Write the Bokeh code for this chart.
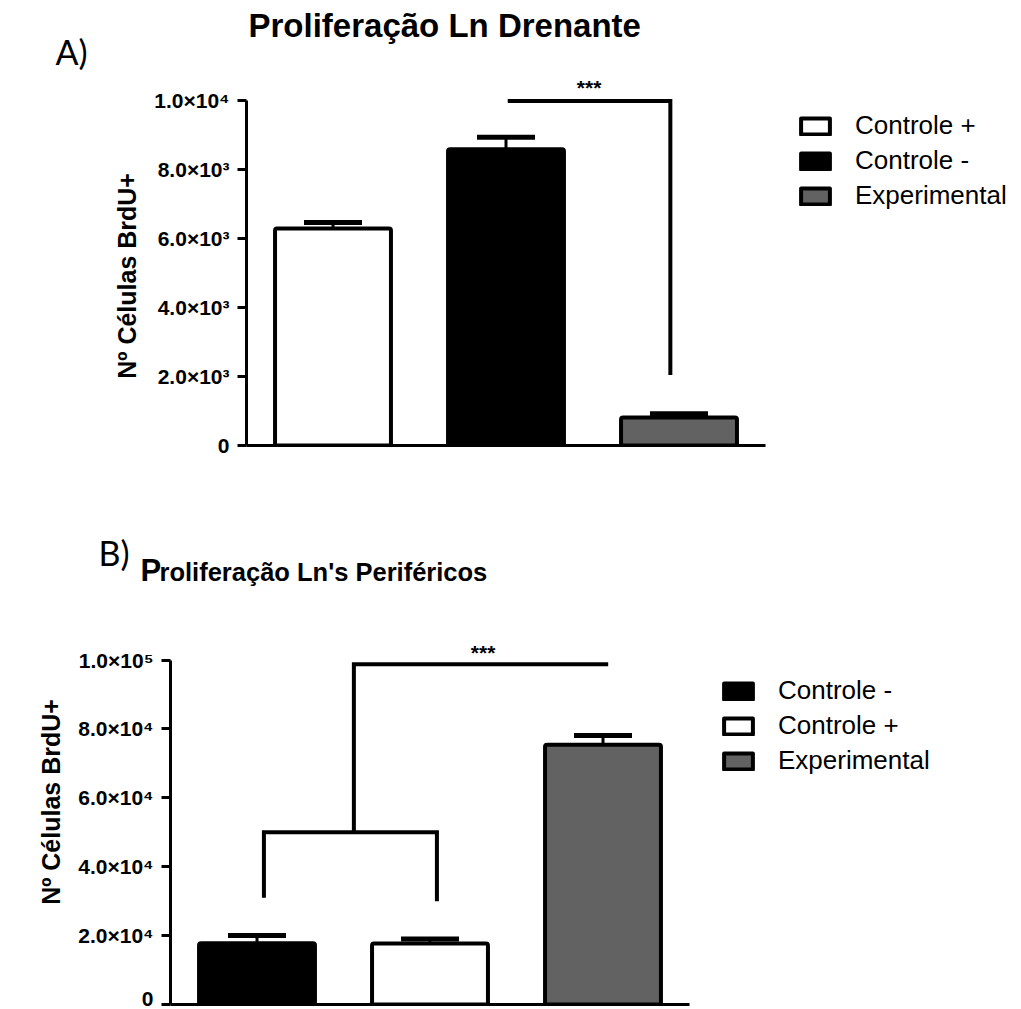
from bokeh.plotting import figure
from bokeh.models import (Range1d, Label, Legend, LegendItem, Whisker, TeeHead,
                          ColumnDataSource, FixedTicker, Title)
from bokeh.layouts import column
from bokeh.embed import file_html
from bokeh.resources import INLINE

# --- A) proliferation in the draining lymph node ---
drain_groups = ["Controle +", "Controle -", "Experimental"]
drain_mean = [6300, 8600, 810]
drain_sem = [170, 350, 110]
drain_colors = ["white", "black", "#626262"]
drain_ticks = [0, 2000, 4000, 6000, 8000, 10000]
drain_tick_labels = ["0", "2.0×10³", "4.0×10³", "6.0×10³", "8.0×10³", "1.0×10⁴"]

# --- B) proliferation in the peripheral lymph nodes ---
periph_groups = ["Controle -", "Controle +", "Experimental"]
periph_mean = [17800, 17700, 75400]
periph_sem = [2200, 1300, 2700]
periph_colors = ["black", "white", "#626262"]
periph_ticks = [0, 20000, 40000, 60000, 80000, 100000]
periph_tick_labels = ["0", "2.0×10⁴", "4.0×10⁴", "6.0×10⁴", "8.0×10⁴", "1.0×10⁵"]

FONT = "Liberation Sans"
Y_LABEL = "Nº Células BrdU+"
N_GROUPS = 3
NBSP = "\u00a0"


def bar_panel(groups, means, sems, colors, ticks, tick_labels,
              x_end, y_end, frame_w, frame_h, left, top, bottom, legend_xy,
              label_pad):
    p = figure(frame_width=frame_w, frame_height=frame_h,
               min_border_left=left, min_border_right=0,
               min_border_top=top, min_border_bottom=bottom,
               x_range=Range1d(0.5, x_end), y_range=Range1d(0, y_end),
               output_backend="svg", toolbar_location=None,
               title_location=None)
    if "frame_align" in p.properties():
        p.frame_align = False
    p.outline_line_color = None
    p.xgrid.visible = False
    p.ygrid.visible = False
    p.background_fill_color = "white"
    p.border_fill_color = "white"

    xs = list(range(1, len(groups) + 1))
    src = ColumnDataSource(dict(x=xs, mean=means,
                                hi=[m + s for m, s in zip(means, sems)],
                                color=colors, group=groups))
    bars = p.vbar(x="x", top="mean", width=0.67, bottom=0, source=src,
                  fill_color="color", line_color="black", line_width=4,
                  line_join="round", border_radius=2)

    # upper error bar only (SEM)
    wh = Whisker(source=src, base="x", lower="mean", upper="hi",
                 dimension="height", line_color="black", line_width=3,
                 upper_head=TeeHead(size=58, line_width=5, line_color="black"),
                 lower_head=None)
    p.add_layout(wh)

    # y axis
    ax = p.yaxis[0]
    ax.ticker = FixedTicker(ticks=ticks)
    ax.major_label_overrides = {t: lab for t, lab in zip(ticks, tick_labels)}
    ax.bounds = (ticks[0], ticks[-1])
    ax.minor_tick_line_color = None
    ax.major_tick_in = 0
    ax.major_tick_out = 9
    ax.major_tick_line_width = 3
    ax.axis_line_width = 3
    ax.major_label_standoff = 8
    ax.major_label_text_font = FONT
    ax.major_label_text_font_style = "bold"
    ax.major_label_text_font_size = "21px"
    ax.major_label_text_color = "black"
    # padding keeps the label centred on the drawn part of the axis
    ax.axis_label = Y_LABEL + NBSP * label_pad
    ax.axis_label_text_font = FONT
    ax.axis_label_text_font_style = "bold"
    ax.axis_label_text_font_size = "25px"
    ax.axis_label_text_color = "black"
    ax.axis_label_standoff = 10

    # x axis: plain baseline under the bars only
    bx = p.xaxis[0]
    bx.ticker = FixedTicker(ticks=[])
    bx.bounds = (0.5, N_GROUPS + 0.5)
    bx.major_tick_line_color = None
    bx.minor_tick_line_color = None
    bx.major_tick_out = 0
    bx.major_label_standoff = 0
    bx.axis_line_width = 3

    items = [LegendItem(label=g, renderers=[bars], index=i)
             for i, g in enumerate(groups)]
    leg = Legend(items=items, location=legend_xy, orientation="vertical",
                 glyph_width=36, glyph_height=20, label_standoff=22,
                 spacing=4, padding=0, margin=0, label_height=20,
                 border_line_color=None, background_fill_alpha=0,
                 label_text_font=FONT, label_text_font_size="26px",
                 label_text_color="black", label_text_baseline="middle")
    p.add_layout(leg)
    return p


def stars(p, x, y):
    p.add_layout(Label(x=x, y=y, text="***", text_font=FONT,
                       text_font_size="21px", text_font_style="bold",
                       text_align="center", text_baseline="middle",
                       text_color="black"))


def heading(p, text, size, offset, standoff, style="bold", font=FONT):
    p.add_layout(Title(text=text, align="left", offset=offset,
                       standoff=standoff, text_font=font,
                       text_font_size=size, text_font_style=style,
                       text_color="black"), "above")


def bracket(p, xs, ys):
    p.line(x=xs, y=ys, line_color="black", line_width=4, line_join="miter")


# ---------- panel A ----------
pa = bar_panel(drain_groups, drain_mean, drain_sem, drain_colors,
               drain_ticks, drain_tick_labels,
               x_end=0.5 + 775 / 173, y_end=10653, frame_w=775, frame_h=367,
               left=246, top=78, bottom=55, legend_xy=(551, 234),
               label_pad=4)
bracket(pa, [2.01, 2.95, 2.95], [10000, 10000, 2050])
stars(pa, 2.48, 10390)
heading(pa, "A)", "34px", -191, 14, style="normal", font="Lato")
heading(pa, "Proliferação Ln Drenante", "33px", 2, -44)

# ---------- panel B ----------
pb = bar_panel(periph_groups, periph_mean, periph_sem, periph_colors,
               periph_ticks, periph_tick_labels,
               x_end=0.5 + 851 / 173, y_end=119594, frame_w=851, frame_h=412,
               left=170, top=92, bottom=5, legend_xy=(550, 228),
               label_pad=1)
bracket(pb, [1.04, 1.04, 2.04, 2.04], [31000, 50000, 50000, 30000])
bracket(pb, [1.56, 1.56, 3.03], [50000, 98800, 98800])
stars(pb, 2.307, 102200)
heading(pb, "roliferação Ln's Periféricos", "25.5px", -11, 13)
heading(pb, "P", "31px", -30, -76)
heading(pb, "B)", "34px", -72, -47, style="normal", font="Lato")

layout = column(pa, pb, spacing=0)
open("out.html", "w").write(file_html(layout, INLINE))
